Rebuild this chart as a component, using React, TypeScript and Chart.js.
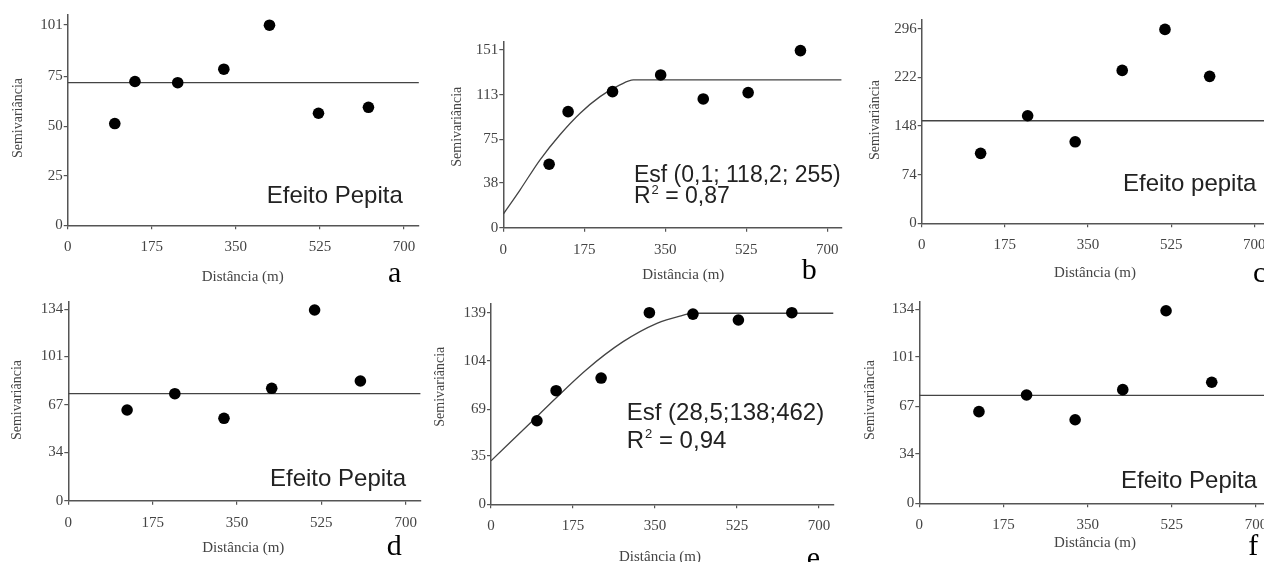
import React, { useEffect, useRef } from "react";
import { Chart, registerables } from "chart.js";

Chart.register(...registerables);

const SERIF = "'Liberation Serif', 'Times New Roman', serif";
const SANS = "'Liberation Sans', Arial, sans-serif";
const CW = 1320;
const CH = 562;
const Y_BOX = 50;
const X_BOX = 36;

// shared x ticks (Distância, m)
const xTickValues = [0, 175, 350, 525, 700];

// Panel a
const aDist = [98, 140, 229, 325, 420, 522, 626];
const aSemi = [51.3, 72.5, 71.9, 78.7, 100.9, 56.5, 59.5];
const aModelX = [0, 731];
const aModelY = [71.9, 71.9];
const aYTicks = [0, 25, 50, 75, 101];

// Panel b
const bDist = [99, 140, 236, 340, 432, 529, 642];
const bSemi = [53.9, 98.6, 115.6, 129.8, 109.4, 114.8, 150.5];
const bModelX = [0, 36, 79, 122, 166, 209, 252, 281, 731];
const bModelY = [11.6, 32, 57.5, 78.8, 97.3, 111.4, 121.3, 125.6, 125.6];
const bYTicks = [0, 38, 75, 113, 151];

// Panel c
const cDist = [124, 223, 323, 422, 512, 606];
const cSemi = [106.4, 163.6, 124, 232.6, 294.9, 223.5];
const cModelX = [0, 731];
const cModelY = [156, 156];
const cYTicks = [0, 74, 148, 222, 296];

// Panel d
const dDist = [122, 221, 323, 422, 511, 606];
const dSemi = [63.5, 74.9, 57.7, 78.7, 133.5, 83.8];
const dModelX = [0, 731];
const dModelY = [74.9, 74.9];
const dYTicks = [0, 34, 67, 101, 134];

// Panel e
const eDist = [98, 139, 235, 338, 431, 528, 642];
const eSemi = [60.6, 82.4, 91.6, 139, 138, 133.7, 139];
const eModelX = [0, 100, 203, 282, 354, 403, 432, 731];
const eModelY = [31.5, 64.3, 97.5, 118, 131.3, 136.6, 138.6, 138.6];
const eYTicks = [0, 35, 69, 104, 139];

// Panel f
const fDist = [124, 223, 324, 423, 513, 608];
const fSemi = [63.3, 74.8, 57.7, 78.5, 133, 83.6];
const fModelX = [0, 731];
const fModelY = [74.6, 74.6];
const fYTicks = [0, 34, 67, 101, 134];

type Note = { text: string; x: number; y: number; size: number; sup?: boolean };

type PanelDef = {
  dist: number[];
  semi: number[];
  modelX: number[];
  modelY: number[];
  yTicks: number[];
  xMax: number;
  yMax: number;
  left: number;
  bottom: number;
  x700: number;
  tickTopPx: number;
  xTitle: [number, number];
  yTitle: [number, number];
  letter: string;
  letterPos: [number, number];
  notes: Note[];
};

const panels: PanelDef[] = [
  {
    dist: aDist, semi: aSemi, modelX: aModelX, modelY: aModelY, yTicks: aYTicks,
    xMax: 731, yMax: 106,
    left: 67.7, bottom: 225.3, x700: 404, tickTopPx: 25,
    xTitle: [242.7, 276.7], yTitle: [18.3, 118], letter: "a", letterPos: [388, 282],
    notes: [{ text: "Efeito Pepita", x: 266.7, y: 202.5, size: 24 }],
  },
  {
    dist: bDist, semi: bSemi, modelX: bModelX, modelY: bModelY, yTicks: bYTicks,
    xMax: 731, yMax: 158,
    left: 503.3, bottom: 227.7, x700: 827.3, tickTopPx: 50,
    xTitle: [683.3, 275], yTitle: [457.3, 126.7], letter: "b", letterPos: [801.7, 279],
    notes: [
      { text: "Esf (0,1; 118,2; 255)", x: 634, y: 181.7, size: 23 },
      { text: "0,87", x: 634, y: 203.3, size: 23, sup: true },
    ],
  },
  {
    dist: cDist, semi: cSemi, modelX: cModelX, modelY: cModelY, yTicks: cYTicks,
    xMax: 731, yMax: 309,
    left: 921.7, bottom: 223.3, x700: 1254.3, tickTopPx: 28.7,
    xTitle: [1095, 273.3], yTitle: [875, 120], letter: "c", letterPos: [1253, 281.7],
    notes: [{ text: "Efeito pepita", x: 1123, y: 190.7, size: 24 }],
  },
  {
    dist: dDist, semi: dSemi, modelX: dModelX, modelY: dModelY, yTicks: dYTicks,
    xMax: 731, yMax: 139,
    left: 68.3, bottom: 500.7, x700: 405.7, tickTopPx: 309.3,
    xTitle: [243.3, 548.3], yTitle: [17.3, 400], letter: "d", letterPos: [386.7, 555],
    notes: [{ text: "Efeito Pepita", x: 270, y: 486, size: 24 }],
  },
  {
    dist: eDist, semi: eSemi, modelX: eModelX, modelY: eModelY, yTicks: eYTicks,
    xMax: 731, yMax: 145.8,
    left: 491, bottom: 504.3, x700: 819, tickTopPx: 312.7,
    xTitle: [660, 556.7], yTitle: [440, 386.7], letter: "e", letterPos: [806.7, 567],
    notes: [
      { text: "Esf (28,5;138;462)", x: 626.7, y: 420, size: 24 },
      { text: "0,94", x: 626.7, y: 448.3, size: 24, sup: true },
    ],
  },
  {
    dist: fDist, semi: fSemi, modelX: fModelX, modelY: fModelY, yTicks: fYTicks,
    xMax: 731, yMax: 139,
    left: 919.3, bottom: 503.3, x700: 1256, tickTopPx: 309.3,
    xTitle: [1095, 543.3], yTitle: [870, 400], letter: "f", letterPos: [1248.3, 555],
    notes: [{ text: "Efeito Pepita", x: 1121, y: 488.3, size: 24 }],
  },
];

function fixedFit(horizontal: boolean) {
  return (scale: any) => {
    if (horizontal) scale.height = X_BOX;
    else scale.width = Y_BOX;
    scale.paddingLeft = 0;
    scale.paddingRight = 0;
    scale.paddingTop = 0;
    scale.paddingBottom = 0;
  };
}

function Panel({ p }: { p: PanelDef }) {
  const ref = useRef<HTMLCanvasElement>(null);
  useEffect(() => {
    const canvas = ref.current!;
    const tickTop = p.yTicks[p.yTicks.length - 1];
    const right = p.left + (p.xMax / 700) * (p.x700 - p.left);
    const top = p.bottom - (p.yMax / tickTop) * (p.bottom - p.tickTopPx);

    const textPlugin = {
      id: "panelText",
      afterDraw(c: any) {
        const ctx = c.ctx as CanvasRenderingContext2D;
        ctx.save();
        ctx.fillStyle = "#444";
        ctx.font = `15px ${SERIF}`;
        ctx.textAlign = "center";
        ctx.textBaseline = "middle";
        ctx.fillText("Distância (m)", p.xTitle[0], p.xTitle[1]);
        ctx.font = `14px ${SERIF}`;
        ctx.save();
        ctx.translate(p.yTitle[0], p.yTitle[1]);
        ctx.rotate(-Math.PI / 2);
        ctx.fillText("Semivariância", 0, 0);
        ctx.restore();

        ctx.textAlign = "left";
        ctx.textBaseline = "alphabetic";
        ctx.fillStyle = "#000";
        ctx.font = `30px ${SERIF}`;
        ctx.fillText(p.letter, p.letterPos[0], p.letterPos[1]);

        ctx.fillStyle = "#222";
        for (const n of p.notes) {
          ctx.font = `${n.size}px ${SANS}`;
          if (n.sup) {
            ctx.fillText("R", n.x, n.y);
            const wR = ctx.measureText("R").width;
            ctx.font = `${Math.round(n.size * 0.55)}px ${SANS}`;
            ctx.fillText("2", n.x + wR + 1, n.y - n.size * 0.42);
            const w2 = ctx.measureText("2").width;
            ctx.font = `${n.size}px ${SANS}`;
            ctx.fillText(" = " + n.text, n.x + wR + 1 + w2, n.y);
          } else {
            ctx.fillText(n.text, n.x, n.y);
          }
        }
        ctx.restore();
      },
    };

    const axisCommon = {
      grid: {
        display: true,
        drawOnChartArea: false,
        drawTicks: true,
        tickLength: 4,
        color: "#555",
        lineWidth: 1.2,
      },
      border: { display: true, color: "#555", width: 1.5 },
    };

    const chart = new Chart(canvas, {
      type: "scatter",
      data: {
        datasets: [
          {
            data: p.dist.map((x, i) => ({ x, y: p.semi[i] })),
            pointRadius: 5.8,
            pointBackgroundColor: "#000",
            pointBorderWidth: 0,
            showLine: false,
          },
          {
            data: p.modelX.map((x, i) => ({ x, y: p.modelY[i] })),
            showLine: true,
            pointRadius: 0,
            borderColor: "#444",
            borderWidth: 1.3,
            cubicInterpolationMode: "monotone",
            fill: false,
          } as any,
        ],
      },
      options: {
        responsive: false,
        animation: false,
        events: [],
        layout: {
          padding: {
            left: p.left - Y_BOX,
            top: top,
            right: CW - right,
            bottom: CH - p.bottom - X_BOX,
          },
        },
        plugins: { legend: { display: false }, tooltip: { enabled: false } },
        scales: {
          x: {
            type: "linear",
            min: 0,
            max: p.xMax,
            afterFit: fixedFit(true),
            afterBuildTicks: (s: any) => {
              s.ticks = xTickValues.map((v) => ({ value: v }));
            },
            ticks: {
              color: "#444",
              font: { family: SERIF, size: 15 },
              padding: 9,
              maxRotation: 0,
              autoSkip: false,
              callback: (v: any) => String(v),
            },
            ...axisCommon,
          },
          y: {
            type: "linear",
            min: 0,
            max: p.yMax,
            afterFit: fixedFit(false),
            afterBuildTicks: (s: any) => {
              s.ticks = p.yTicks.map((v) => ({ value: v }));
            },
            ticks: {
              color: "#444",
              font: { family: SERIF, size: 15 },
              padding: 1,
              autoSkip: false,
              callback: (v: any) => String(v),
            },
            ...axisCommon,
          },
        },
      },
      plugins: [textPlugin],
    } as any);
    return () => chart.destroy();
  }, [p]);
  return (
    <canvas
      ref={ref}
      width={CW}
      height={CH}
      style={{ position: "absolute", left: 0, top: 0, width: CW, height: CH }}
    />
  );
}

export default function App() {
  return (
    <div
      style={{
        position: "absolute",
        left: 0,
        top: 0,
        width: 1264,
        height: 562,
        overflow: "hidden",
        background: "#fff",
      }}
    >
      {panels.map((p, i) => (
        <Panel key={i} p={p} />
      ))}
    </div>
  );
}
